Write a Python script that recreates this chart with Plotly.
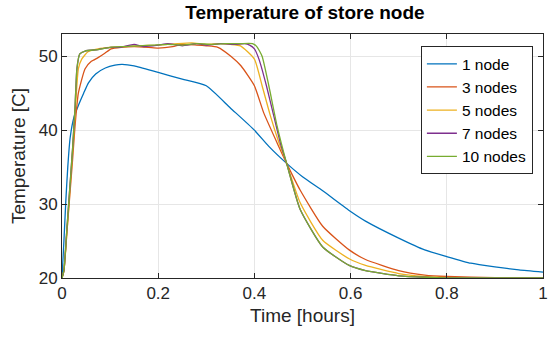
import plotly.graph_objects as go

# ---- data ----
t_1 = [0, 0.004, 0.008, 0.012, 0.017, 0.025, 0.035, 0.045, 0.055, 0.07, 0.09, 0.11, 0.125, 0.15, 0.2, 0.25,
       0.3, 0.35, 0.4, 0.43, 0.467, 0.5, 0.542, 0.6, 0.631, 0.7, 0.754, 0.8, 0.85, 0.9, 0.95, 1.0]
T_1 = [20, 25, 30.5, 35, 39, 41.8, 43.5, 45, 46.4, 47.6, 48.4, 48.8, 48.9, 48.7, 47.8, 46.9,
       46.0, 43.0, 40.0, 37.8, 35.5, 33.7, 31.8, 29.0, 27.7, 25.4, 23.8, 22.9, 22.0, 21.5, 21.1, 20.8]

t_3 = [0, 0.004, 0.01, 0.016, 0.022, 0.027, 0.034, 0.048, 0.061, 0.075, 0.089, 0.102, 0.123, 0.15, 0.18, 0.2,
       0.23, 0.25, 0.28, 0.3, 0.324, 0.351, 0.372, 0.4, 0.419, 0.447, 0.467, 0.495, 0.542, 0.597, 0.631,
       0.7, 0.754, 0.8, 0.9, 1.0]
T_3 = [20, 21, 26, 31, 36, 40.5, 45, 48.3, 49.3, 49.8, 50.4, 51.0, 51.2, 51.3, 51.2, 51.1,
       51.3, 51.6, 51.5, 51.4, 51.2, 50.0, 48.7, 46.0, 42.4, 38.3, 35.5, 31.9, 27.0, 23.8, 22.5,
       21.0, 20.4, 20.2, 20.05, 20.0]

t_5 = [0, 0.004, 0.01, 0.016, 0.022, 0.027, 0.034, 0.041, 0.054, 0.075, 0.1, 0.13, 0.16, 0.2, 0.24, 0.27,
       0.3, 0.33, 0.35, 0.371, 0.4, 0.416, 0.433, 0.45, 0.467, 0.495, 0.542, 0.597, 0.631, 0.7, 0.754,
       0.8, 1.0]
T_5 = [20, 21, 26, 31.5, 37, 42, 48.3, 49.6, 50.6, 51.0, 51.2, 51.3, 51.4, 51.5, 51.7, 51.8,
       51.6, 51.7, 51.6, 51.4, 49.6, 46.0, 42.0, 38.5, 35.5, 30.2, 25.1, 22.6, 21.7, 20.6, 20.2,
       20.05, 20.0]

t_7 = [0, 0.004, 0.01, 0.016, 0.022, 0.027, 0.031, 0.037, 0.048, 0.075, 0.1, 0.12, 0.15, 0.17, 0.2, 0.22,
       0.25, 0.28, 0.3, 0.33, 0.36, 0.38, 0.39, 0.4, 0.41, 0.425, 0.44, 0.455, 0.467, 0.495, 0.542,
       0.597, 0.631, 0.7, 0.754, 0.8, 1.0]
T_7 = [20, 21, 26.5, 32, 37.5, 43, 48.3, 50.3, 50.7, 50.9, 51.2, 51.2, 51.6, 51.3, 51.5, 51.7,
       51.4, 51.7, 51.5, 51.7, 51.6, 51.7, 51.5, 51.0, 49.5, 46.0, 42.0, 38.0, 35.5, 29.3, 24.2,
       21.7, 21.0, 20.3, 20.1, 20.02, 20.0]

t_10 = [0, 0.004, 0.01, 0.016, 0.022, 0.027, 0.031, 0.037, 0.048, 0.075, 0.1, 0.13, 0.16, 0.19, 0.22, 0.25,
        0.28, 0.31, 0.34, 0.37, 0.396, 0.405, 0.416, 0.43, 0.447, 0.467, 0.495, 0.542, 0.597, 0.631,
        0.7, 0.754, 0.8, 1.0]
T_10 = [20, 21, 26.5, 32, 37.5, 43, 48.3, 50.3, 50.7, 50.9, 51.2, 51.3, 51.4, 51.5, 51.6, 51.5,
        51.7, 51.6, 51.7, 51.7, 51.7, 51.3, 50.0, 46.0, 40.6, 35.5, 29.3, 24.2, 21.7, 21.0,
        20.3, 20.1, 20.02, 20.0]

names = ["1 node", "3 nodes", "5 nodes", "7 nodes", "10 nodes"]
colors = ["#0072BD", "#D95319", "#EDB120", "#7E2F8E", "#77AC30"]
series = [(t_1, T_1), (t_3, T_3), (t_5, T_5), (t_7, T_7), (t_10, T_10)]

x_ticks = [0, 0.2, 0.4, 0.6, 0.8, 1]
x_tick_text = ["0", "0.2", "0.4", "0.6", "0.8", "1"]
y_ticks = [20, 30, 40, 50]

FONT = "Liberation Sans, Arial, sans-serif"
AX = "#262626"

fig = go.Figure()
for (t, T), n, c in zip(series, names, colors):
    fig.add_trace(go.Scatter(x=t, y=T, name=n, mode="lines",
                             line=dict(color=c, width=1.3, shape="spline", smoothing=0.5)))

axis_common = dict(showline=True, linecolor=AX, linewidth=1, mirror="ticks",
                   ticks="inside", ticklen=5, tickcolor=AX, tickwidth=1,
                   showgrid=True, gridcolor="#e6e6e6", gridwidth=1, zeroline=False,
                   ticklabeloverflow="allow",
                   tickfont=dict(family=FONT, size=17, color=AX))

fig.update_layout(
    width=549, height=338,
    margin=dict(l=62, r=1, t=34, b=60),
    paper_bgcolor="white", plot_bgcolor="white",
    title=dict(text="<b>Temperature of store node</b>", x=0.5555, xanchor="center",
               y=0.962, yanchor="middle", font=dict(family=FONT, size=19, color="black")),
    xaxis=dict(range=[0, 1], tickvals=x_ticks, ticktext=x_tick_text,
               title=dict(text="Time [hours]", font=dict(family=FONT, size=19, color=AX), standoff=6),
               **axis_common),
    yaxis=dict(range=[20, 53], tickvals=y_ticks,
               title=dict(text="Temperature [C]", font=dict(family=FONT, size=19, color=AX), standoff=8),
               **axis_common),
    legend=dict(x=0.979, xanchor="right", y=0.95, yanchor="top",
                bgcolor="white", bordercolor=AX, borderwidth=1,
                font=dict(family=FONT, size=15.5, color="black"),
                tracegroupgap=0),
    showlegend=True,
)

fig.write_html("out.html")
